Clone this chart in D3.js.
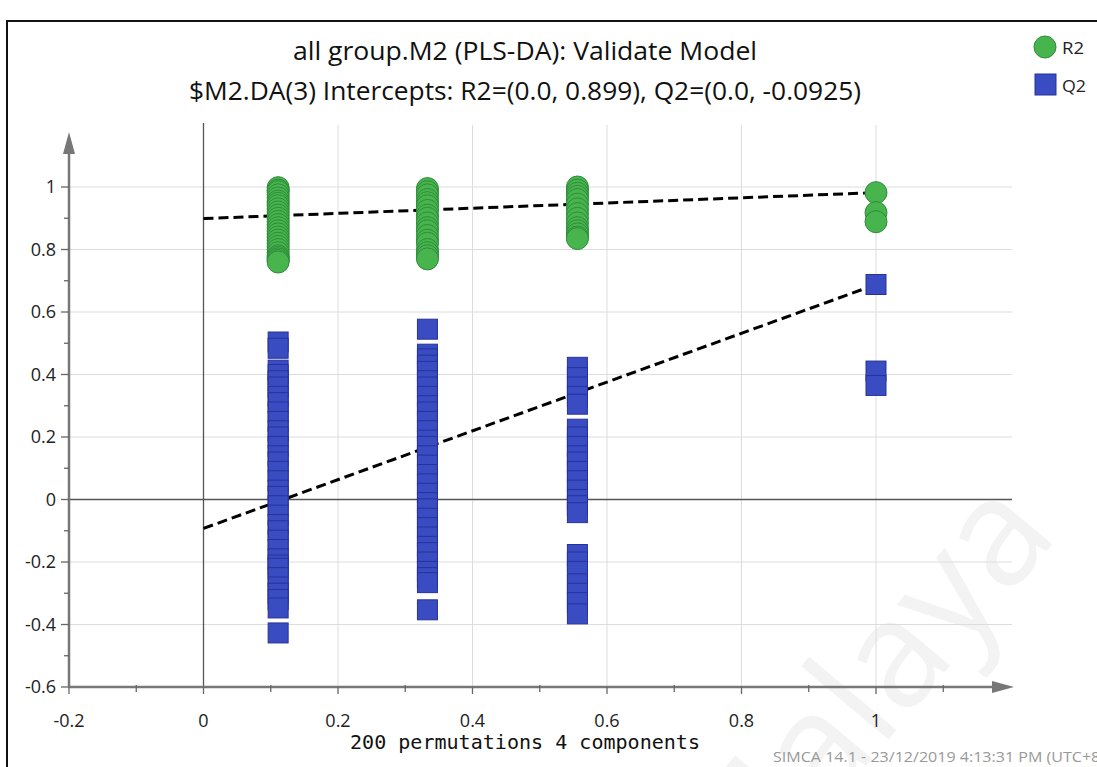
<!DOCTYPE html>
<html>
<head>
<meta charset="utf-8">
<script src="https://cdn.jsdelivr.net/npm/d3@7/dist/d3.min.js"></script>
<style>
  body { margin: 0; background: #fff; }
  svg { display: block; }
</style>
</head>
<body>
<svg id="chart" width="1097" height="767"></svg>
<script>
// permutation test values
var r2Cols = [
  { x: 0.111, vals: [0.998, 0.99, 0.985, 0.975, 0.965, 0.955, 0.948, 0.94, 0.93, 0.92, 0.91, 0.9, 0.89, 0.88, 0.87, 0.86, 0.85, 0.84, 0.83, 0.82, 0.81, 0.8, 0.79, 0.78, 0.775, 0.77, 0.765, 0.76] },
  { x: 0.333, vals: [0.995, 0.985, 0.975, 0.96, 0.95, 0.94, 0.925, 0.91, 0.9, 0.885, 0.87, 0.86, 0.845, 0.83, 0.82, 0.8, 0.79, 0.78, 0.77] },
  { x: 0.556, vals: [1.0, 0.99, 0.98, 0.97, 0.96, 0.945, 0.93, 0.915, 0.9, 0.885, 0.87, 0.86, 0.85, 0.84, 0.835] },
  { x: 1.0, vals: [0.982, 0.918, 0.889] }
];
var q2Cols = [
  { x: 0.111, vals: [0.504, 0.484, 0.414, 0.4, 0.38, 0.36, 0.33, 0.31, 0.28, 0.25, 0.22, 0.2, 0.17, 0.14, 0.12, 0.09, 0.06, 0.03, 0.01, -0.02, -0.05, -0.08, -0.1, -0.13, -0.16, -0.19, -0.21, -0.22, -0.25, -0.28, -0.3, -0.32, -0.347, -0.427] },
  { x: 0.333, vals: [0.545, 0.465, 0.45, 0.43, 0.41, 0.38, 0.36, 0.33, 0.3, 0.28, 0.25, 0.22, 0.19, 0.17, 0.14, 0.11, 0.08, 0.05, 0.02, -0.01, -0.03, -0.06, -0.09, -0.12, -0.15, -0.17, -0.2, -0.23, -0.25, -0.266, -0.353] },
  { x: 0.556, vals: [0.423, 0.39, 0.36, 0.33, 0.305, 0.225, 0.2, 0.17, 0.14, 0.12, 0.09, 0.06, 0.03, 0.0, -0.02, -0.042, -0.176, -0.2, -0.23, -0.27, -0.3, -0.33, -0.366] },
  { x: 1.0, vals: [0.688, 0.411, 0.365] }
];
// regression lines: intercept at x=0 and end at x=1
var r2Line = [[0, 0.899], [1, 0.982]];
var q2Line = [[0, -0.0925], [1, 0.688]];

var xTicks = [-0.2, 0, 0.2, 0.4, 0.6, 0.8, 1];
var yTicks = [-0.6, -0.4, -0.2, 0, 0.2, 0.4, 0.6, 0.8, 1];
var xMinor = [-0.1, 0.1, 0.3, 0.5, 0.7, 0.9, 1.1];
var yMinor = [-0.5, -0.3, -0.1, 0.1, 0.3, 0.5, 0.7, 0.9];

var title1 = 'all group.M2 (PLS-DA): Validate Model';
var title2 = '$M2.DA(3) Intercepts: R2=(0.0, 0.899), Q2=(0.0, -0.0925)';
var xLabel = '200 permutations 4 components';
var footer = 'SIMCA 14.1 - 23/12/2019 4:13:31 PM (UTC+8)';

var svg = d3.select('#chart');
var font = '"Open Sans", "Noto Sans", sans-serif';

var x = d3.scaleLinear().domain([-0.2, 1]).range([69, 876]);
var y = d3.scaleLinear().domain([-0.6, 1]).range([687, 187]);
var xEnd = 1012, yTop = 125;

// faint watermark
svg.append('text')
  .attr('transform', 'translate(1060,535) rotate(-50)')
  .attr('text-anchor', 'end')
  .attr('font-family', font)
  .attr('font-size', 150)
  .attr('fill', '#f3f3f3')
  .text('Malaya');

// frame
svg.append('path')
  .attr('d', 'M7,767 V21 H1097')
  .attr('fill', 'none')
  .attr('stroke', '#111')
  .attr('stroke-width', 2);

// grid
svg.append('g').selectAll('line')
  .data(xTicks.filter(function (d) { return d > 0; }))
  .enter().append('line')
  .attr('x1', function (d) { return x(d); })
  .attr('x2', function (d) { return x(d); })
  .attr('y1', yTop).attr('y2', y(-0.6))
  .attr('stroke', '#dcdcdc');

svg.append('g').selectAll('line')
  .data(yTicks.filter(function (d) { return d !== 0 && d > -0.6; }))
  .enter().append('line')
  .attr('x1', x(-0.2)).attr('x2', xEnd)
  .attr('y1', function (d) { return y(d); })
  .attr('y2', function (d) { return y(d); })
  .attr('stroke', '#dcdcdc');

// zero lines
svg.append('line')
  .attr('x1', x(0)).attr('x2', x(0))
  .attr('y1', yTop - 2).attr('y2', y(-0.6))
  .attr('stroke', '#555').attr('stroke-width', 1.3);
svg.append('line')
  .attr('x1', x(-0.2)).attr('x2', xEnd)
  .attr('y1', y(0)).attr('y2', y(0))
  .attr('stroke', '#555').attr('stroke-width', 1.3);

// axes with arrows
var axisColor = '#777';
svg.append('line')
  .attr('x1', x(-0.2)).attr('x2', 995)
  .attr('y1', y(-0.6)).attr('y2', y(-0.6))
  .attr('stroke', axisColor).attr('stroke-width', 2.5);
svg.append('path')
  .attr('d', 'M992,' + (y(-0.6) - 6) + ' L1014,' + y(-0.6) + ' L992,' + (y(-0.6) + 6) + 'Z')
  .attr('fill', axisColor);
svg.append('line')
  .attr('x1', x(-0.2)).attr('x2', x(-0.2))
  .attr('y1', y(-0.6)).attr('y2', 152)
  .attr('stroke', axisColor).attr('stroke-width', 2.5);
svg.append('path')
  .attr('d', 'M' + (x(-0.2) - 6) + ',154 L' + x(-0.2) + ',132 L' + (x(-0.2) + 6) + ',154Z')
  .attr('fill', axisColor);

// ticks
svg.append('g').selectAll('line')
  .data(xTicks).enter().append('line')
  .attr('x1', function (d) { return x(d); }).attr('x2', function (d) { return x(d); })
  .attr('y1', y(-0.6)).attr('y2', y(-0.6) + 7)
  .attr('stroke', '#666').attr('stroke-width', 1.3);
svg.append('g').selectAll('line')
  .data(xMinor).enter().append('line')
  .attr('x1', function (d) { return x(d); }).attr('x2', function (d) { return x(d); })
  .attr('y1', y(-0.6) - 2).attr('y2', y(-0.6) + 5)
  .attr('stroke', '#666').attr('stroke-width', 1.3);
svg.append('g').selectAll('line')
  .data(yTicks).enter().append('line')
  .attr('x1', x(-0.2) - 8).attr('x2', x(-0.2))
  .attr('y1', function (d) { return y(d); }).attr('y2', function (d) { return y(d); })
  .attr('stroke', '#666').attr('stroke-width', 1.3);
svg.append('g').selectAll('line')
  .data(yMinor).enter().append('line')
  .attr('x1', x(-0.2) - 5).attr('x2', x(-0.2))
  .attr('y1', function (d) { return y(d); }).attr('y2', function (d) { return y(d); })
  .attr('stroke', '#666').attr('stroke-width', 1.3);

// tick labels
svg.append('g').selectAll('text')
  .data(xTicks).enter().append('text')
  .attr('x', function (d) { return x(d); })
  .attr('y', 727)
  .attr('text-anchor', 'middle')
  .attr('font-family', font).attr('font-size', 18).attr('fill', '#222')
  .text(function (d) { return d; });
svg.append('g').selectAll('text')
  .data(yTicks).enter().append('text')
  .attr('x', 56)
  .attr('y', function (d) { return y(d) + 6; })
  .attr('text-anchor', 'end')
  .attr('font-family', font).attr('font-size', 18).attr('fill', '#222')
  .text(function (d) { return d; });

// regression lines
var line = d3.line().x(function (d) { return x(d[0]); }).y(function (d) { return y(d[1]); });
[r2Line, q2Line].forEach(function (l) {
  svg.append('path')
    .attr('d', line(l))
    .attr('fill', 'none')
    .attr('stroke', '#000')
    .attr('stroke-width', 3)
    .attr('stroke-dasharray', '10,5');
});

// points
function flat(cols) {
  var out = [];
  cols.forEach(function (c) { c.vals.forEach(function (v) { out.push([c.x, v]); }); });
  return out;
}
var sq = 20;
svg.append('g').selectAll('rect')
  .data(flat(q2Cols)).enter().append('rect')
  .attr('x', function (d) { return x(d[0]) - sq / 2; })
  .attr('y', function (d) { return y(d[1]) - sq / 2; })
  .attr('width', sq).attr('height', sq)
  .attr('fill', '#3a4cc2')
  .attr('stroke', '#26329a').attr('stroke-width', 1);
svg.append('g').selectAll('circle')
  .data(flat(r2Cols)).enter().append('circle')
  .attr('cx', function (d) { return x(d[0]); })
  .attr('cy', function (d) { return y(d[1]); })
  .attr('r', 11)
  .attr('fill', '#48b44e')
  .attr('stroke', '#2f8c3a').attr('stroke-width', 1);

// titles
svg.append('text')
  .attr('x', 525).attr('y', 60)
  .attr('text-anchor', 'middle')
  .attr('font-family', font).attr('font-size', 25).attr('fill', '#111')
  .attr('textLength', 464).attr('lengthAdjust', 'spacingAndGlyphs')
  .text(title1);
svg.append('text')
  .attr('x', 525).attr('y', 100)
  .attr('text-anchor', 'middle')
  .attr('font-family', font).attr('font-size', 25).attr('fill', '#111')
  .attr('textLength', 672).attr('lengthAdjust', 'spacingAndGlyphs')
  .text(title2);

// legend
var legend = svg.append('g');
legend.append('circle').attr('cx', 1045).attr('cy', 47).attr('r', 11)
  .attr('fill', '#48b44e').attr('stroke', '#2f8c3a');
legend.append('text').attr('x', 1062).attr('y', 54)
  .attr('font-family', font).attr('font-size', 17).attr('fill', '#222')
  .attr('textLength', 22).attr('lengthAdjust', 'spacingAndGlyphs')
  .text('R2');
legend.append('rect').attr('x', 1035).attr('y', 74).attr('width', 21).attr('height', 21)
  .attr('fill', '#3a4cc2').attr('stroke', '#26329a');
legend.append('text').attr('x', 1062).attr('y', 92)
  .attr('font-family', font).attr('font-size', 17).attr('fill', '#222')
  .attr('textLength', 24).attr('lengthAdjust', 'spacingAndGlyphs')
  .text('Q2');

// axis label and footer
svg.append('text')
  .attr('x', 525).attr('y', 749)
  .attr('text-anchor', 'middle')
  .attr('font-family', '"DejaVu Sans Mono", "Liberation Mono", monospace')
  .attr('font-size', 19).attr('fill', '#111')
  .attr('textLength', 350).attr('lengthAdjust', 'spacingAndGlyphs')
  .text(xLabel);
svg.append('text')
  .attr('x', 773).attr('y', 762)
  .attr('font-family', font).attr('font-size', 14).attr('fill', '#999')
  .attr('textLength', 332).attr('lengthAdjust', 'spacingAndGlyphs')
  .text(footer);
</script>
</body>
</html>
